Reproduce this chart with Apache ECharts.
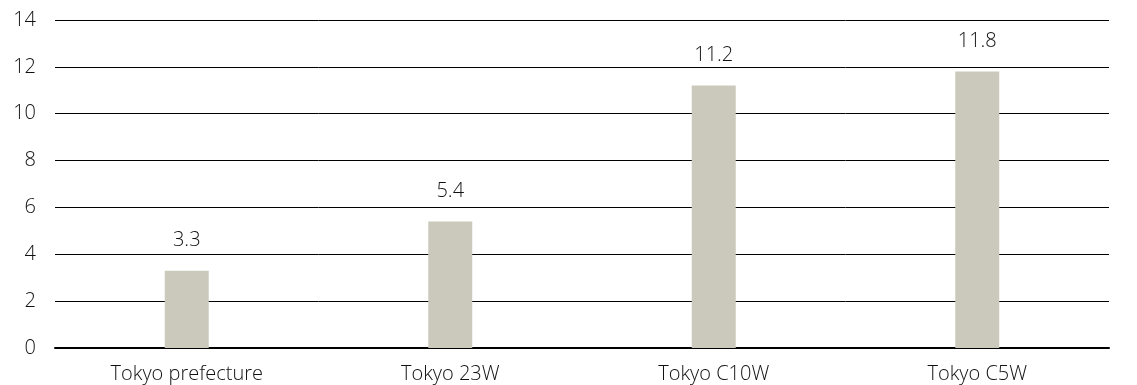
<!DOCTYPE html>
<html>
<head>
<meta charset="utf-8">
<script src="https://cdn.jsdelivr.net/npm/echarts@6/dist/echarts.min.js"></script>
<style>
  html, body { margin: 0; padding: 0; background: #fff; }
  #chart { width: 1137px; height: 385px; }
</style>
</head>
<body>
<div id="chart"></div>
<script>
const categories = ['Tokyo prefecture', 'Tokyo 23W', 'Tokyo C10W', 'Tokyo C5W'];
const values = [3.3, 5.4, 11.2, 11.8];
const yTicks = { min: 0, max: 14, interval: 2 };

const FONT = '"Open Sans", "Noto Sans", sans-serif';
const TEXT = { color: '#111', fontSize: 20, fontFamily: FONT, fontWeight: 300 };
const chart = echarts.init(document.getElementById('chart'), null, { renderer: 'canvas' });

chart.setOption({
  animation: false,
  grid: { left: 55, right: 28, top: 20, bottom: 37, containLabel: false },
  xAxis: {
    type: 'category',
    data: categories,
    axisLine: { show: true, lineStyle: { color: '#000', width: 2 } },
    axisTick: { show: false },
    axisLabel: Object.assign({ margin: 16 }, TEXT)
  },
  yAxis: {
    type: 'value',
    min: yTicks.min,
    max: yTicks.max,
    interval: yTicks.interval,
    axisLine: { show: false },
    axisTick: { show: false },
    axisLabel: Object.assign({ margin: 19 }, TEXT),
    splitLine: { show: true, lineStyle: { color: '#000', width: 1 } }
  },
  series: [{
    type: 'bar',
    data: values,
    barWidth: 44,
    itemStyle: { color: '#cbc9bc' },
    label: Object.assign({ show: true, position: 'top', distance: 20 }, TEXT)
  }]
});
</script>
</body>
</html>
